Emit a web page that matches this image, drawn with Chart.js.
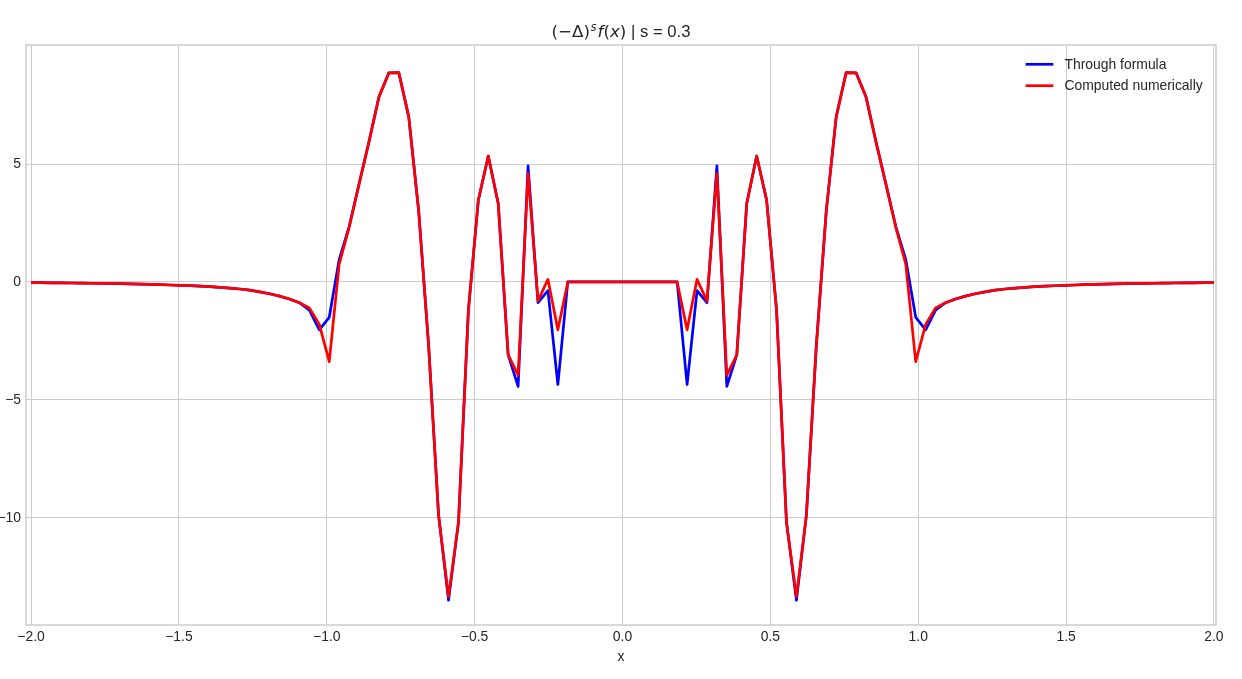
<!DOCTYPE html>
<html>
<head>
<meta charset="utf-8">
<script src="https://cdn.jsdelivr.net/npm/chart.js@4.4.1/dist/chart.umd.min.js"></script>
<style>
html,body{margin:0;padding:0;background:#ffffff;}
canvas{display:block;}
</style>
</head>
<body>
<canvas id="c" width="1242" height="679"></canvas>
<script>
// ---- data ----
const X = [
 -2.0000,-1.9664,-1.9328,-1.8992,-1.8655,-1.8319,-1.7983,-1.7647,-1.7311,-1.6975,
 -1.6639,-1.6303,-1.5966,-1.5630,-1.5294,-1.4958,-1.4622,-1.4286,-1.3950,-1.3613,
 -1.3277,-1.2941,-1.2605,-1.2269,-1.1933,-1.1597,-1.1261,-1.0924,-1.0588,-1.0252,
 -0.9916,-0.9580,-0.9244,-0.8908,-0.8571,-0.8235,-0.7899,-0.7563,-0.7227,-0.6891,
 -0.6555,-0.6218,-0.5882,-0.5546,-0.5210,-0.4874,-0.4538,-0.4202,-0.3866,-0.3529,
 -0.3193,-0.2857,-0.2521,-0.2185,-0.1849,-0.1513,-0.1176,-0.0840,-0.0504,-0.0168,
  0.0168, 0.0504, 0.0840, 0.1176, 0.1513, 0.1849, 0.2185, 0.2521, 0.2857, 0.3193,
  0.3529, 0.3866, 0.4202, 0.4538, 0.4874, 0.5210, 0.5546, 0.5882, 0.6218, 0.6555,
  0.6891, 0.7227, 0.7563, 0.7899, 0.8235, 0.8571, 0.8908, 0.9244, 0.9580, 0.9916,
  1.0252, 1.0588, 1.0924, 1.1261, 1.1597, 1.1933, 1.2269, 1.2605, 1.2941, 1.3277,
  1.3613, 1.3950, 1.4286, 1.4622, 1.4958, 1.5294, 1.5630, 1.5966, 1.6303, 1.6639,
  1.6975, 1.7311, 1.7647, 1.7983, 1.8319, 1.8655, 1.8992, 1.9328, 1.9664, 2.0000
];

const THROUGH_FORMULA = [
 -0.03,-0.03,-0.035,-0.04,-0.045,-0.05,-0.055,-0.06,-0.065,-0.075,
 -0.085,-0.095,-0.105,-0.115,-0.13,-0.145,-0.16,-0.18,-0.2,-0.23,
 -0.26,-0.3,-0.35,-0.42,-0.5,-0.6,-0.72,-0.88,-1.2,-2.03,
 -1.5,0.95,2.35,4.15,5.95,7.85,8.87,8.88,7.0,3.0,
 -2.7,-9.9,-13.5,-10.2,-1.2,3.47,5.34,3.33,-3.09,-4.43,
 4.92,-0.88,-0.37,-4.35,0,0,0,0,0,0,
 0,0,0,0,0,0,-4.35,-0.37,-0.88,4.92,
 -4.43,-3.09,3.33,5.34,3.47,-1.2,-10.2,-13.5,-9.9,-2.7,
 3.0,7.0,8.88,8.87,7.85,5.95,4.15,2.35,0.95,-1.5,
 -2.03,-1.2,-0.88,-0.72,-0.6,-0.5,-0.42,-0.35,-0.3,-0.26,
 -0.23,-0.2,-0.18,-0.16,-0.145,-0.13,-0.115,-0.105,-0.095,-0.085,
 -0.075,-0.065,-0.06,-0.055,-0.05,-0.045,-0.04,-0.035,-0.03,-0.03
];

const COMPUTED_NUMERICALLY = [
 -0.03,-0.03,-0.035,-0.04,-0.045,-0.05,-0.055,-0.06,-0.065,-0.075,
 -0.085,-0.095,-0.105,-0.115,-0.13,-0.145,-0.16,-0.18,-0.2,-0.23,
 -0.26,-0.3,-0.35,-0.42,-0.5,-0.6,-0.72,-0.88,-1.1,-1.8,
 -3.38,0.75,2.3,4.15,5.95,7.85,8.87,8.88,7.0,3.0,
 -2.7,-9.9,-13.35,-10.2,-1.2,3.47,5.34,3.33,-3.09,-3.95,
 4.6,-0.8,0.11,-2.03,0,0,0,0,0,0,
 0,0,0,0,0,0,-2.03,0.11,-0.8,4.6,
 -3.95,-3.09,3.33,5.34,3.47,-1.2,-10.2,-13.35,-9.9,-2.7,
 3.0,7.0,8.88,8.87,7.85,5.95,4.15,2.3,0.75,-3.38,
 -1.8,-1.1,-0.88,-0.72,-0.6,-0.5,-0.42,-0.35,-0.3,-0.26,
 -0.23,-0.2,-0.18,-0.16,-0.145,-0.13,-0.115,-0.105,-0.095,-0.085,
 -0.075,-0.065,-0.06,-0.055,-0.05,-0.045,-0.04,-0.035,-0.03,-0.03
];

const SERIES_LABELS = ['Through formula', 'Computed numerically'];
const X_TICKS = [-2.0, -1.5, -1.0, -0.5, 0.0, 0.5, 1.0, 1.5, 2.0];
const Y_TICKS = [-10, -5, 0, 5];
const X_TITLE = 'x';
// title: (−Δ)^s f(x) | s = 0.3
const TITLE_PARTS = [
  {text: '(−Δ)', style: 'normal', kind: 'math'},
  {text: 's', style: 'italic', kind: 'sup'},
  {text: 'f', style: 'italic', kind: 'math'},
  {text: '(', style: 'normal', kind: 'math'},
  {text: 'x', style: 'italic', kind: 'math'},
  {text: ')', style: 'normal', kind: 'math'},
  {text: ' | s = 0.3', style: 'normal', kind: 'text'}
];

// ---- helpers ----
const TXT = '#262626';
const FS = 13.9;
const minusFmt = (s) => s.replace('-', '\u2212');

const mathTitle = {
  id: 'mathTitle',
  afterDraw(chart) {
    const ctx = chart.ctx;
    const size = 16.7;
    const fontFor = (p) => {
      if (p.kind === 'text') return `${size}px 'Liberation Sans', Arial, sans-serif`;
      if (p.kind === 'sup') return `italic ${(size * 0.7).toFixed(2)}px 'DejaVu Sans'`;
      return `${p.style === 'italic' ? 'italic ' : ''}${size}px 'DejaVu Sans'`;
    };
    ctx.save();
    let widths = TITLE_PARTS.map(p => { ctx.font = fontFor(p); return ctx.measureText(p.text).width + (p.kind === 'sup' ? 1.5 : 0); });
    const total = widths.reduce((a, b) => a + b, 0);
    const cx = (chart.chartArea.left + chart.chartArea.right) / 2;
    let x = cx - total / 2;
    const base = 37;
    ctx.fillStyle = TXT;
    ctx.textBaseline = 'alphabetic';
    ctx.textAlign = 'left';
    TITLE_PARTS.forEach((p, i) => {
      ctx.font = fontFor(p);
      ctx.fillText(p.text, x + (p.kind === 'sup' ? 0.5 : 0), p.kind === 'sup' ? base - 6.5 : base);
      x += widths[i];
    });
    ctx.restore();
  }
};

const frame = {
  id: 'frame',
  beforeDatasetsDraw(chart) {
    const {ctx, chartArea: a} = chart;
    ctx.save();
    ctx.strokeStyle = '#cccccc';
    ctx.lineWidth = 1.5;
    ctx.strokeRect(a.left, a.top, a.right - a.left, a.bottom - a.top);
    ctx.restore();
  }
};

const mplLegend = {
  id: 'mplLegend',
  afterDraw(chart) {
    const {ctx, chartArea: a} = chart;
    ctx.save();
    ctx.font = `${FS}px 'Liberation Sans', Arial, sans-serif`;
    const dss = chart.data.datasets;
    const maxW = Math.max(...dss.map(d => ctx.measureText(d.label).width));
    const textX = a.right - 13.3 - maxW;
    const hEnd = textX - 11.1;
    const hStart = hEnd - 27.8;
    dss.forEach((ds, i) => {
      const y = a.top + 19.3 + i * 21.4;
      ctx.strokeStyle = ds.borderColor;
      ctx.lineWidth = ds.borderWidth;
      ctx.lineCap = 'butt';
      ctx.beginPath();
      ctx.moveTo(hStart, y);
      ctx.lineTo(hEnd, y);
      ctx.stroke();
      ctx.fillStyle = TXT;
      ctx.textBaseline = 'middle';
      ctx.textAlign = 'left';
      ctx.fillText(ds.label, textX, y + 0.5);
    });
    ctx.restore();
  }
};

Chart.defaults.font.family = "'Liberation Sans', Arial, sans-serif";
Chart.defaults.color = TXT;

const toPoints = (ys) => X.map((x, i) => ({x: x, y: ys[i]}));

new Chart(document.getElementById('c'), {
  type: 'line',
  data: {
    datasets: [
      {label: SERIES_LABELS[0], data: toPoints(THROUGH_FORMULA), borderColor: '#0000ff', backgroundColor: '#0000ff',
       borderWidth: 2.7, pointRadius: 0, tension: 0, fill: false, order: 1, borderJoinStyle: 'round'},
      {label: SERIES_LABELS[1], data: toPoints(COMPUTED_NUMERICALLY), borderColor: '#ff0000', backgroundColor: '#ff0000',
       borderWidth: 2.7, pointRadius: 0, tension: 0, fill: false, order: 0, borderJoinStyle: 'round'}
    ]
  },
  options: {
    responsive: false,
    animation: false,
    devicePixelRatio: 1,
    events: [],
    layout: {padding: {top: 45, right: 26, bottom: 0, left: 0}},
    plugins: {legend: {display: false}, title: {display: false}, tooltip: {enabled: false}},
    scales: {
      x: {
        type: 'linear', min: -2.017, max: 2.007,
        afterBuildTicks(s) { s.ticks = X_TICKS.map(v => ({value: v})); },
        afterFit(s) { s.height = 54; },
        grid: {color: '#cccccc', lineWidth: 1, drawTicks: false},
        border: {display: false},
        ticks: {padding: 4, color: TXT, font: {size: FS}, maxRotation: 0, autoSkip: false,
                callback: (v) => minusFmt(Number(v).toFixed(1))},
        title: {display: true, text: X_TITLE, color: TXT, font: {size: FS}, padding: {top: 0, bottom: 13.7}}
      },
      y: {
        type: 'linear', min: -14.55, max: 10.05,
        afterBuildTicks(s) { s.ticks = Y_TICKS.map(v => ({value: v})); },
        afterFit(s) { s.width = 26; },
        grid: {color: '#cccccc', lineWidth: 1, drawTicks: false},
        border: {display: false},
        ticks: {padding: 5, color: TXT, font: {size: FS}, autoSkip: false,
                callback: (v) => minusFmt(String(v))}
      }
    }
  },
  plugins: [frame, mathTitle, mplLegend]
});
</script>
</body>
</html>
